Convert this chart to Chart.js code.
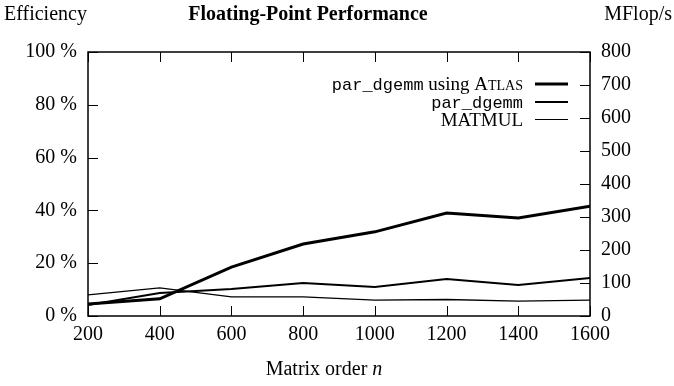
<!DOCTYPE html>
<html><head><meta charset="utf-8">
<script src="https://cdn.jsdelivr.net/npm/chart.js@4/dist/chart.umd.min.js"></script>
<style>html,body{margin:0;padding:0;background:#fff}#wrap{width:674px;height:386px}</style>
</head><body><div id="wrap"><canvas id="c" width="674" height="386"></canvas></div>
<script>
const matrixOrder = [200, 400, 600, 800, 1000, 1200, 1400, 1600];
const atlasMflops = [36, 52, 148, 218, 255, 312, 297, 333];
const pardgemmMflops = [33, 70, 82, 100, 88, 112, 94, 115];
const matmulMflops = [64, 85, 58, 58, 48, 50, 45, 48];
const seriesLabels = ['par_dgemm using Atlas', 'par_dgemm', 'MATMUL'];
const efficiencyTicks = [0, 20, 40, 60, 80, 100];
const mflopsTicks = [0, 100, 200, 300, 400, 500, 600, 700, 800];

const SERIF = '"Liberation Serif", "DejaVu Serif", serif';
const MONO = '"Liberation Mono", "DejaVu Sans Mono", monospace';
const FS = 20;

function pts(vals){ return matrixOrder.map((x,i)=>({x:x,y:vals[i]})); }

const framePlugin = {
  id:'frame',
  afterDraw(chart){
    const ctx = chart.ctx, a = chart.chartArea;
    const sx = chart.scales.x, yl = chart.scales.yL, yr = chart.scales.yR;
    ctx.save();
    ctx.strokeStyle = '#000'; ctx.lineWidth = 1.5;
    ctx.strokeRect(a.left, a.top, a.right-a.left, a.bottom-a.top);
    ctx.lineWidth = 1;
    const T = 10;
    ctx.beginPath();
    matrixOrder.forEach(v=>{ const p = Math.round(sx.getPixelForValue(v))+0.5;
      ctx.moveTo(p, a.bottom); ctx.lineTo(p, a.bottom-T);
      ctx.moveTo(p, a.top); ctx.lineTo(p, a.top+T); });
    efficiencyTicks.forEach(v=>{ const p = Math.round(yl.getPixelForValue(v))+0.5;
      ctx.moveTo(a.left, p); ctx.lineTo(a.left+T, p); });
    mflopsTicks.forEach(v=>{ const p = Math.round(yr.getPixelForValue(v))+0.5;
      ctx.moveTo(a.right, p); ctx.lineTo(a.right-T, p); });
    ctx.stroke();

    // titles
    ctx.fillStyle = '#000';
    ctx.textBaseline = 'middle';
    ctx.font = FS+'px ' + SERIF;
    ctx.textAlign = 'left'; ctx.fillText('Efficiency', 4, 15);
    ctx.textAlign = 'right'; ctx.fillText('MFlop/s', 672, 15);
    ctx.font = 'bold '+FS+'px ' + SERIF;
    ctx.textAlign = 'center'; ctx.fillText('Floating-Point Performance', 308, 15);
    // x title
    ctx.textAlign = 'left';
    const t1 = 'Matrix order ';
    ctx.font = FS+'px ' + SERIF;
    const w1 = ctx.measureText(t1).width;
    ctx.font = 'italic '+FS+'px ' + SERIF;
    const w2 = ctx.measureText('n').width;
    const x0 = 324 - (w1+w2)/2;
    ctx.font = FS+'px ' + SERIF; ctx.fillText(t1, x0, 370);
    ctx.font = 'italic '+FS+'px ' + SERIF; ctx.fillText('n', x0+w1, 370);

    // legend
    const rows = [
      {y:84, parts:[[MONO,'17px','par_dgemm'],[SERIF,'19px',' using '],[SERIF,'19px','A'],[SERIF,'14px','TLAS']]},
      {y:102, parts:[[MONO,'17px','par_dgemm']]},
      {y:119.5, parts:[[SERIF,'19px','MATMUL']]}
    ];
    rows.forEach((r,ri)=>{
      let total = 0;
      r.parts.forEach(p=>{ ctx.font = p[1]+' '+p[0]; total += ctx.measureText(p[2]).width; });
      let x = 523 - total;
      ctx.textAlign = 'left';
      ctx.textBaseline = 'alphabetic';
      r.parts.forEach(p=>{ ctx.font = p[1]+' '+p[0]; ctx.fillText(p[2], x, Math.round(r.y)+6); x += ctx.measureText(p[2]).width; });
      ctx.strokeStyle = chart.data.datasets[ri].borderColor;
      ctx.lineWidth = Math.max(1, Math.round(chart.data.datasets[ri].borderWidth));
      ctx.beginPath(); ctx.moveTo(535, r.y); ctx.lineTo(568, r.y); ctx.stroke();
    });
    ctx.restore();
  }
};

new Chart(document.getElementById('c'), {
  type:'line',
  data:{ datasets:[
    {label:seriesLabels[0], data:pts(atlasMflops), borderColor:'#000', borderWidth:3, pointRadius:0, tension:0, yAxisID:'yR'},
    {label:seriesLabels[1], data:pts(pardgemmMflops), borderColor:'#000', borderWidth:2, pointRadius:0, tension:0, yAxisID:'yR'},
    {label:seriesLabels[2], data:pts(matmulMflops), borderColor:'#000', borderWidth:1.3, pointRadius:0, tension:0, yAxisID:'yR'}
  ]},
  options:{
    responsive:false, animation:false,
    layout:{padding:{top:52, left:0, right:0, bottom:0}},
    plugins:{legend:{display:false}, title:{display:false}, tooltip:{enabled:false}},
    scales:{
      x:{type:'linear', min:200, max:1600,
        afterBuildTicks(s){ s.ticks = matrixOrder.map(v=>({value:v})); },
        afterFit(s){ s.height = 70; },
        grid:{display:false, drawTicks:false}, border:{display:false},
        ticks:{padding:7, color:'#000', font:{family:SERIF, size:FS}, maxRotation:0, autoSkip:false, callback:v=>String(v)}},
      yL:{type:'linear', position:'left', min:0, max:100,
        afterBuildTicks(s){ s.ticks = efficiencyTicks.map(v=>({value:v})); },
        afterFit(s){ s.width = 88; },
        grid:{display:false, drawTicks:false}, border:{display:false},
        ticks:{padding:11, color:'#000', font:{family:SERIF, size:FS}, callback:v=>v+' %'}},
      yR:{type:'linear', position:'right', min:0, max:800,
        afterBuildTicks(s){ s.ticks = mflopsTicks.map(v=>({value:v})); },
        afterFit(s){ s.width = 84; },
        grid:{display:false, drawTicks:false}, border:{display:false},
        ticks:{padding:11, color:'#000', font:{family:SERIF, size:FS}, callback:v=>String(v)}}
    }
  },
  plugins:[framePlugin]
});
</script></body></html>
